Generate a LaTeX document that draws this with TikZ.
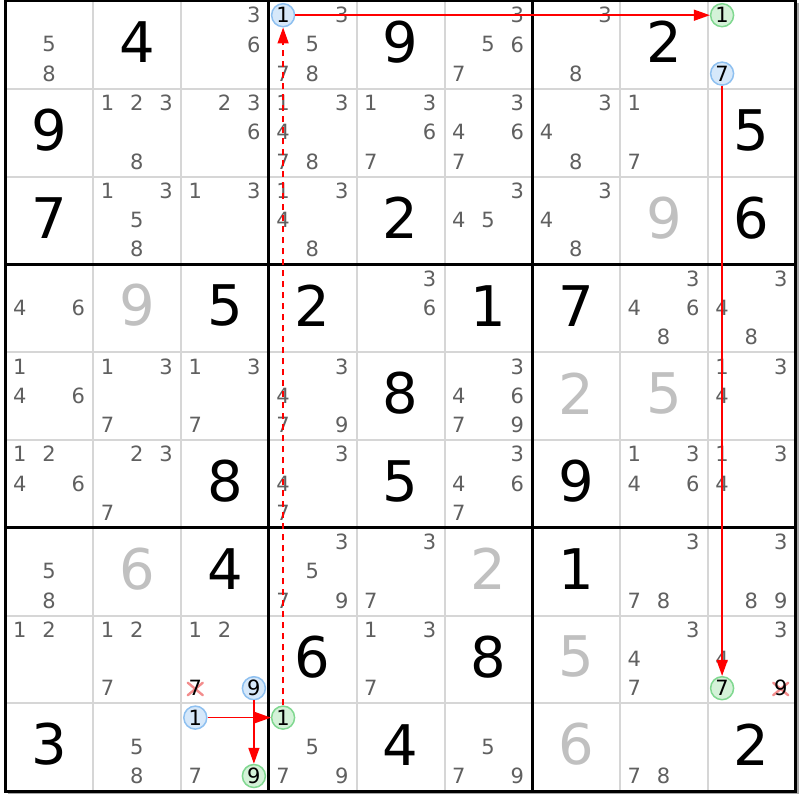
\documentclass[tikz,border=0pt]{standalone}
\usepackage{fontspec}
\setmainfont{DejaVu Sans}
\usetikzlibrary{arrows.meta}
\definecolor{candgray}{HTML}{606060}
\definecolor{givengray}{HTML}{C0C0C0}
\definecolor{thingray}{HTML}{D6D6D6}
\definecolor{bluefill}{HTML}{D6E8FA}
\definecolor{blueline}{HTML}{8EC0F0}
\definecolor{greenfill}{HTML}{D4F2D8}
\definecolor{greenline}{HTML}{80D890}
\definecolor{xred}{HTML}{F07070}
\definecolor{linkred}{HTML}{FF0000}
\tikzset{
  cand/.style={inner sep=0pt, font=\fontsize{21}{21}\selectfont, text=candgray},
  big/.style={inner sep=0pt, font=\fontsize{56}{56}\selectfont, text=black},
  biggray/.style={big, text=givengray},
  hlblue/.style={circle, draw=blueline, fill=bluefill, line width=1.5pt, minimum size=23pt, inner sep=0pt, font=\fontsize{21}{21}\selectfont, text=black},
  hlgreen/.style={hlblue, draw=greenline, fill=greenfill},
  elimdigit/.style={inner sep=0pt, font=\fontsize{21}{21}\selectfont, text=black},
  link/.style={draw=linkred, line width=1.5pt, -{Triangle[length=16pt,width=11pt]}},
  weaklink/.style={link, dash pattern=on 6pt off 5pt},
  thinline/.style={draw=thingray, line width=2pt},
  thickline/.style={draw=black, line width=3pt},
  shadowline/.style={draw=black!35, line width=1.5pt},
  elim/.style={draw=xred, line width=2.4pt, opacity=0.8, line cap=round},
}
\begin{document}
\begin{tikzpicture}[x=1pt,y=-1pt,
  declare function={colx(\c)=5.5+87.8*(\c-1); rowy(\r)=1+87.8*(\r-1);}]
\useasboundingbox (0,0) rectangle (800,800);
\fill[white] (0,0) rectangle (800,800);

% thin grid lines
\foreach \i in {2,3,5,6,8,9}{
  \draw[thinline] ({colx(\i)},{rowy(1)}) -- ({colx(\i)},{rowy(10)});
  \draw[thinline] ({colx(1)},{rowy(\i)}) -- ({colx(10)},{rowy(\i)});
}
% shadow
\draw[shadowline] ({colx(1)+2},{rowy(10)+2.3}) -- ({colx(10)+2.3},{rowy(10)+2.3}) -- ({colx(10)+2.3},{rowy(1)+2});
% thick lines
\foreach \i in {4,7}{
  \draw[thickline] ({colx(\i)},{rowy(1)}) -- ({colx(\i)},{rowy(10)});
  \draw[thickline] ({colx(1)},{rowy(\i)}) -- ({colx(10)},{rowy(\i)});
}
\draw[thickline] ({colx(1)},{rowy(1)}) rectangle ({colx(10)},{rowy(10)});

% given digits (black)
\foreach \r/\c/\d in {1/2/4,1/5/9,1/8/2,2/1/9,2/9/5,3/1/7,3/5/2,3/9/6,
  4/3/5,4/4/2,4/6/1,4/7/7,5/5/8,6/3/8,6/5/5,6/7/9,
  7/3/4,7/7/1,8/4/6,8/6/8,9/1/3,9/5/4,9/9/2}
  \node[big] (g\r\c) at ({colx(\c)+43.9},{rowy(\r)+41.2}) {\d};
% solved digits (gray)
\foreach \r/\c/\d in {3/8/9,4/2/9,5/7/2,5/8/5,7/2/6,7/6/2,8/7/5,9/7/6}
  \node[biggray] (g\r\c) at ({colx(\c)+43.9},{rowy(\r)+41.2}) {\d};

% candidates
\foreach \r/\c/\L in {1/1/{5,8},1/3/{3,6},1/4/{3,5,7,8},1/6/{3,5,6,7},1/7/{3,8},
  2/2/{1,2,3,8},2/3/{2,3,6},2/4/{1,3,4,7,8},2/5/{1,3,6,7},2/6/{3,4,6,7},2/7/{3,4,8},2/8/{1,7},
  3/2/{1,3,5,8},3/3/{1,3},3/4/{1,3,4,8},3/6/{3,4,5},3/7/{3,4,8},
  4/1/{4,6},4/5/{3,6},4/8/{3,4,6,8},4/9/{3,4,8},
  5/1/{1,4,6},5/2/{1,3,7},5/3/{1,3,7},5/4/{3,4,7,9},5/6/{3,4,6,7,9},5/9/{1,3,4},
  6/1/{1,2,4,6},6/2/{2,3,7},6/4/{3,4,7},6/6/{3,4,6,7},6/8/{1,3,4,6},6/9/{1,3,4},
  7/1/{5,8},7/4/{3,5,7,9},7/5/{3,7},7/8/{3,7,8},7/9/{3,8,9},
  8/1/{1,2},8/2/{1,2,7},8/3/{1,2},8/5/{1,3,7},8/8/{3,4,7},8/9/{3,4},
  9/2/{5,8},9/3/{7},9/4/{5,7,9},9/6/{5,7,9},9/8/{7,8}}{
  \foreach \d in \L {
    \pgfmathtruncatemacro\sc{mod(\d-1,3)}
    \pgfmathtruncatemacro\sr{div(\d-1,3)}
    \node[cand] (k\r\c\d) at ({colx(\c)+14.2+29.3*\sc},{rowy(\r)+14.2+29.2*\sr}) {\d};
  }
}

% eliminated candidates
\node[elimdigit] (x837) at ({colx(3)+14.2},{rowy(8)+72.6}) {};
\draw[elim] ([shift={(-7.5,-5.5)}]x837.center) -- ([shift={(7.5,7)}]x837.center)
            ([shift={(-7.5,7)}]x837.center) -- ([shift={(7.5,-5.5)}]x837.center);
\node[elimdigit] (e837) at (x837.center) {7};
\node[elimdigit] (x899) at ({colx(9)+72.8},{rowy(8)+72.6}) {};
\draw[elim] ([shift={(-7.5,-5.5)}]x899.center) -- ([shift={(7.5,7)}]x899.center)
            ([shift={(-7.5,7)}]x899.center) -- ([shift={(7.5,-5.5)}]x899.center);
\node[elimdigit] (e899) at (x899.center) {9};

% highlighted candidates
\node[hlblue]  (hA) at ({colx(4)+14.2},{rowy(1)+14.2}) {1};
\node[hlgreen] (hB) at ({colx(9)+14.2},{rowy(1)+14.2}) {1};
\node[hlblue]  (hC) at ({colx(9)+14.2},{rowy(1)+72.6}) {7};
\node[hlgreen] (hD) at ({colx(9)+14.2},{rowy(8)+72.6}) {7};
\node[hlgreen] (hE) at ({colx(4)+14.2},{rowy(9)+14.2}) {1};
\node[hlblue]  (hF) at ({colx(3)+14.2},{rowy(9)+14.2}) {1};
\node[hlblue]  (hG) at ({colx(3)+72.8},{rowy(8)+72.6}) {9};
\node[hlgreen] (hH) at ({colx(3)+72.8},{rowy(9)+72.6}) {9};

% links
\draw[weaklink] (hE) -- (hA);
\draw[link] (hA) -- (hB);
\draw[link] (hC) -- (hD);
\draw[link] (hF) -- (hE);
\draw[link] (hG) -- (hH);
\end{tikzpicture}
\end{document}
